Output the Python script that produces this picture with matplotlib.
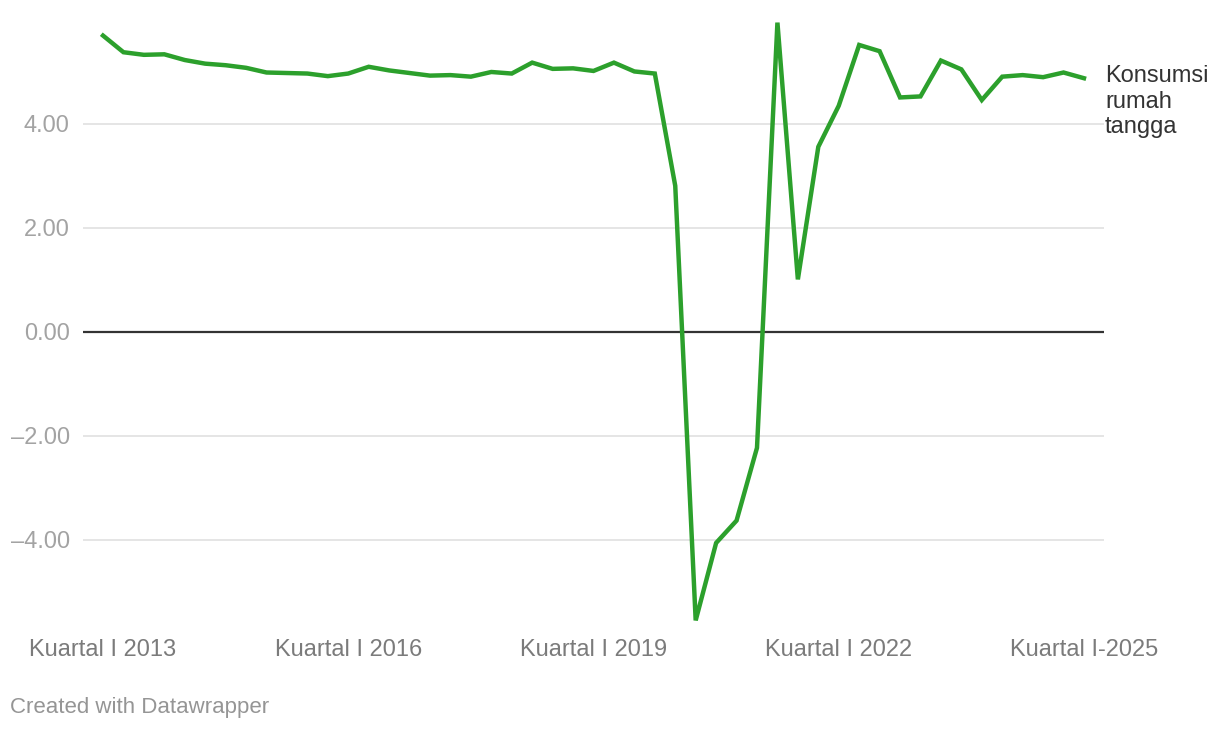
import matplotlib
matplotlib.use("Agg")
import matplotlib.pyplot as plt

plt.rcParams['font.family'] = ['Liberation Sans', 'DejaVu Sans']

# pertumbuhan konsumsi rumah tangga (% yoy), Kuartal I 2013 - Kuartal I 2025
konsumsi = [5.70, 5.38, 5.33, 5.34, 5.23, 5.16, 5.13, 5.08,
            4.99, 4.98, 4.97, 4.92, 4.97, 5.10, 5.03, 4.98,
            4.93, 4.94, 4.91, 5.00, 4.97, 5.18, 5.06, 5.07,
            5.02, 5.18, 5.01, 4.97, 2.81, -5.55, -4.06, -3.63,
            -2.23, 5.95, 1.01, 3.56, 4.35, 5.52, 5.40, 4.51,
            4.53, 5.22, 5.05, 4.46, 4.91, 4.94, 4.90, 4.99, 4.88]
kuartal = list(range(len(konsumsi)))
tick_pos = [0, 12, 24, 36, 48]
tick_labels = ['Kuartal I 2013', 'Kuartal I 2016', 'Kuartal I 2019',
               'Kuartal I 2022', 'Kuartal I-2025']
y_ticks = [-4, -2, 0, 2, 4]

W, H = 1220, 730
fig = plt.figure(figsize=(W / 100, H / 100), dpi=100)
ax = fig.add_axes([83 / W, 1 - 623 / H, (1104 - 83) / W, (623 - 20) / H])

for v in y_ticks:
    if v == 0:
        ax.axhline(v, color='#333333', lw=1.6, zorder=2)
    else:
        ax.axhline(v, color='#e3e3e3', lw=1.3, zorder=1)

ax.plot(kuartal, konsumsi, color='#2ca02c', lw=3.2, solid_joinstyle='miter', zorder=3)

ax.set_xlim(-0.98, 48.98)
ax.set_ylim(-5.6, 6.0)
ax.set_yticks(y_ticks)
ax.set_yticklabels([f'{v:.2f}'.replace('-', '\u2013') for v in y_ticks])
ax.set_xticks(tick_pos)
ax.set_xticklabels(tick_labels)
ax.tick_params(axis='y', length=0, pad=9.5, labelsize=17, labelcolor='#a3a3a3')
ax.tick_params(axis='x', length=0, pad=11.5, labelsize=17, labelcolor='#7b7b7b')
for s in ax.spines.values():
    s.set_visible(False)

ax.annotate('Konsumsi\nrumah\ntangga', xy=(kuartal[-1], konsumsi[-1]),
            xytext=(21, 13), textcoords='offset pixels', ha='left', va='top',
            fontsize=17, color='#333333', linespacing=1.2, annotation_clip=False)

fig.text(10 / W, 1 - 707 / H, 'Created with Datawrapper', fontsize=16,
         color='#959595', ha='left', va='center')

fig.savefig('out.png', dpi=100, facecolor='white')
